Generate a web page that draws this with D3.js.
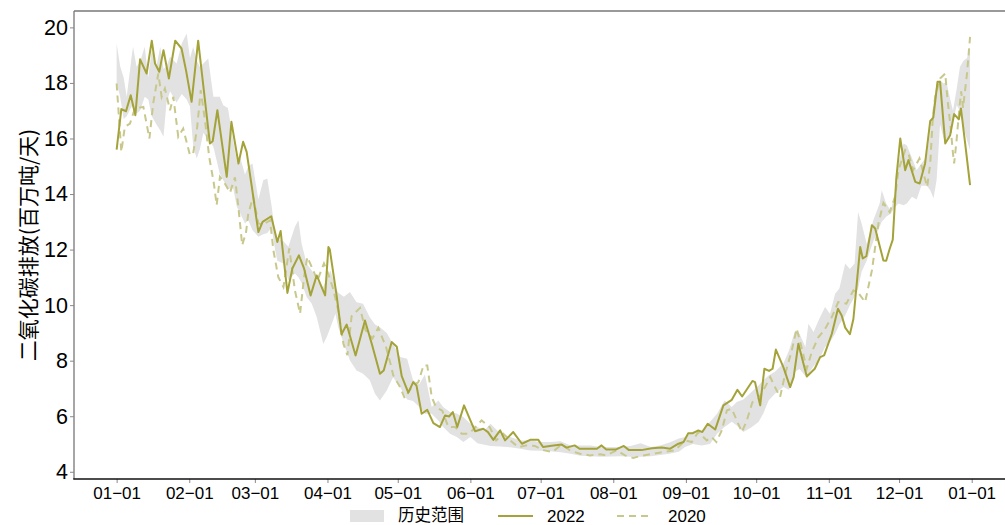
<!DOCTYPE html>
<html>
<head>
<meta charset="utf-8">
<script src="https://cdnjs.cloudflare.com/ajax/libs/d3/7.8.5/d3.min.js"></script>
<title>二氧化碳排放</title>
<style>
	body { margin: 0; background: #fff; }
	svg { display: block; font-family: "Liberation Sans", Arial, "Noto Sans CJK SC", sans-serif; }
	.tick line { stroke: #888; }
	.domain { display: none; }
</style>
</head>
<body>
<svg width="1005" height="525"></svg>
<script>
// day of year (0 = 01-01), value in Mt/day
var series2022 = [[0,15.6],[2,17.06],[4,16.98],[6,17.56],[8,16.84],[10,18.85],[12.8,18.34],[15,19.52],[16.4,18.7],[18.2,18.4],
	[20,19.18],[22.3,18.16],[25,19.52],[27.7,19.24],[29.6,18.46],[32,17.32],[34.8,19.52],[37.7,17.38],[39.8,15.82],[41,15.9],
	[43,17.02],[47,14.62],[49,16.6],[52,15.1],[54,15.88],[55.5,15.52],[57.6,14.32],[60.5,12.63],[62.3,13.0],[66,13.2],
	[68.6,12.27],[70,12.67],[72.9,10.44],[75,11.32],[77.8,11.79],[80,11.32],[82.8,10.35],[85.4,11.07],[89,10.35],[90.4,12.09],
	[91,12.0],[94,10.29],[96,8.95],[98.2,9.3],[102,8.19],[106,9.45],[108.9,8.61],[112.4,7.53],[114,7.65],[117.4,8.67],
	[119.6,8.5],[121.7,7.44],[124.5,6.85],[126.6,7.23],[128,7.1],[130.2,6.09],[132.6,6.23],[135.2,5.75],[138,5.61],[140.2,6.03],
	[141.9,5.99],[143.5,6.15],[145.4,5.61],[148.3,6.39],[151,5.85],[153,5.46],[156.5,5.55],[158.5,5.43],[160.8,5.15],[163.7,5.49],
	[165.8,5.13],[169.3,5.43],[173,5.01],[176.5,5.15],[180,5.15],[182,4.89],[186.5,4.95],[190,4.98],[192,4.87],[195.5,4.95],
	[197.6,4.83],[202,4.83],[205,4.83],[207,4.95],[209,4.8],[213,4.8],[216.5,4.93],[218.7,4.78],[224,4.78],[228.5,4.85],
	[232.7,4.87],[236.3,4.83],[239.8,5.01],[242,5.07],[244,5.39],[246,5.39],[248.3,5.49],[250,5.43],[252.3,5.73],[255.5,5.52],
	[259,6.39],[262.6,6.59],[265,6.95],[267,6.71],[271.4,7.27],[272.5,7.23],[274.7,6.39],[276.5,7.71],[278.5,7.63],[280,7.71],
	[281.4,8.4],[284.6,7.77],[287.5,7.05],[289,7.41],[291,8.61],[294.6,7.43],[298,7.71],[300.3,8.13],[302,8.19],[305.3,8.97],
	[307.9,9.87],[309.5,9.63],[311,9.19],[313,8.95],[314.5,9.5],[317.4,12.09],[318.5,11.68],[320,11.76],[322.4,12.88],[323.8,12.76],
	[327.3,11.61],[328.5,11.6],[330,12.03],[331.3,12.36],[332.8,14.56],[334.5,16.0],[336.6,14.86],[338,15.22],[340.9,14.44],[342.8,14.38],
	[345.1,15.1],[347.3,16.63],[348.6,16.75],[350.4,18.04],[351.5,18.04],[353.7,15.82],[355.8,16.12],[357.5,16.88],[359.5,16.69],[360.4,17.08],
	[362.2,15.82],[364.3,14.32]];

var series2020 = [[0,17.98],[2,15.52],[3.5,16.42],[5.7,16.54],[7.8,17.08],[11.4,17.14],[14,16.0],[15.6,17.26],[17.8,18.34],[19.2,17.5],
	[20.6,17.8],[22.8,17.02],[24.2,17.5],[26.3,16.06],[28.4,16.36],[31.3,15.4],[32.7,15.47],[34.4,16.42],[35.9,17.74],[37.7,16.66],
	[39.5,15.34],[41.5,14.38],[42.7,13.6],[44.1,14.62],[46.2,14.38],[48.4,14.05],[50.5,14.6],[52,13.5],[53.6,12.16],[55.2,12.6],
	[56.2,13.3],[58.3,13.9],[60.5,12.94],[62.6,12.9],[65.5,13.06],[66.9,11.98],[69,11.01],[71.2,10.65],[73.7,12.04],[76.1,10.53],
	[78.3,9.69],[80,11.01],[81.4,11.73],[83.3,11.37],[85.7,10.89],[88.5,11.5],[90,11.2],[92.2,10.65],[94.6,9.81],[96.8,8.61],
	[98.5,8.2],[100.3,9.6],[103.9,9.9],[106.2,9.1],[109.2,8.8],[111.7,9.18],[115,8.49],[116.7,7.95],[118.1,7.47],[121,7.05],
	[123,6.65],[126,7.05],[128.8,7.23],[131,7.83],[132.6,7.83],[134.5,6.69],[136.3,6.33],[139,6.2],[141.6,5.61],[144.5,5.61],
	[147.3,5.37],[150,5.37],[152,5.5],[155.8,5.85],[159.3,5.6],[162,5.13],[165,5.37],[168,5.13],[171.5,4.89],[175,4.95],
	[178.5,4.93],[182,4.78],[186,4.71],[189.5,4.95],[191.5,4.9],[193.6,4.76],[197.8,4.65],[202,4.59],[206.5,4.63],[209,4.59],
	[213.5,4.77],[217,4.59],[220.5,4.5],[224.8,4.59],[229,4.65],[233,4.71],[238.3,4.77],[242.7,5.13],[245.5,5.07],[248.3,5.43],
	[251.9,5.13],[254,5.25],[256,5.07],[258.3,5.49],[260.5,6.21],[262.6,6.27],[264.7,5.85],[266.9,5.43],[269,5.85],[271.4,6.51],
	[274,6.63],[276.8,7.05],[279,7.41],[281,7.05],[283.2,6.69],[285.4,7.53],[288.2,8.37],[290.3,9.15],[292,8.6],[294.6,7.71],
	[296.7,8.31],[299.6,8.85],[302,9.09],[305.3,9.57],[308,10.11],[311.5,10.05],[314.5,10.53],[317,10.4],[319.5,10.11],[322.4,11.25],
	[325.2,12.94],[327.3,13.68],[330,13.35],[332.3,13.9],[333.7,14.86],[336.6,15.58],[338,15.46],[340,14.86],[342.7,15.28],[345,14.56],
	[346,14.26],[347.3,15.1],[348.3,16.6],[349.4,17.5],[351.5,18.16],[353.7,18.34],[354.7,17.38],[356,16.4],[357,15.46],[357.5,15.1],
	[358.5,15.9],[359.8,17.14],[360.5,17.7],[361.3,17.1],[363,18.34],[364.3,19.66]];

// historical range: [day, min, max]
var histRange = [[0,18.0,19.42],[1.5,17.5,18.6],[3,16.7,18.2],[4.3,16.8,17.5],[6.4,17.15,18.94],[7,17.1,19.3],[8.5,16.9,18.58],[10,17.0,18.76],
	[12,17.5,19.3],[13.5,17.4,18.2],[15,16.8,19.2],[17,16.5,18.6],[18.6,16.3,19.3],[20,16.06,18.5],[21.3,17.3,18.6],[22.8,17.7,18.94],
	[25.6,17.3,18.7],[27.8,17.6,19.42],[29.9,17.4,19.78],[31.3,17.15,18.9],[32.7,15.7,19.3],[34.2,15.28,18.8],[35.5,15.6,18.58],[37,16.2,18.7],
	[39.1,16.0,18.88],[41.3,15.7,17.5],[44,14.74,17.5],[45.5,14.5,17.2],[47.5,14.2,17.1],[49.8,14.2,15.9],[51.3,13.54,15.2],[52.8,13.3,15.3],
	[54.8,12.94,14.7],[56.2,13.06,15.0],[58,12.7,15.1],[60.5,12.46,13.8],[62.6,12.55,14.5],[64.3,12.6,14.56],[66.2,12.8,13.54],[67.6,12.0,12.6],
	[68.6,11.6,12.4],[71.2,11.5,12.3],[73.3,10.9,12.1],[76.1,11.14,12.82],[77.6,11.0,13.06],[79,10.8,12.2],[81.1,10.29,11.5],[83.3,10.05,11.25],
	[85.4,9.57,10.9],[86.8,9.09,10.75],[88.2,8.6,10.65],[89.7,8.85,11.0],[91.3,9.2,11.25],[93.4,9.69,10.65],[94.6,9.2,10.45],[97,8.6,10.3],
	[99.6,8.01,10.47],[102.4,7.65,10.1],[105.2,7.53,10.05],[108,7.3,9.57],[110.3,6.81,9.3],[112.4,6.57,9.2],[115.3,6.93,9.0],[118,7.4,8.6],
	[121,7.05,8.13],[124,6.6,8.07],[126.5,6.55,7.3],[129.2,6.33,7.15],[131.6,6.09,7.5],[134.5,6.09,6.33],[137.3,5.85,6.57],[139.4,5.61,6.33],
	[142.3,5.37,6.15],[145.2,5.25,6.1],[148,5.07,5.97],[151,5.25,5.73],[154,5.03,5.61],[157,4.97,5.49],[159.6,4.93,5.73],[163.9,4.91,5.37],
	[168,4.88,5.25],[172.3,4.83,5.13],[176.5,4.77,5.13],[180.8,4.76,5.07],[185,4.74,5.07],[189.5,4.7,5.1],[193.8,4.65,4.95],[198,4.58,4.95],
	[202.3,4.56,4.95],[206.5,4.54,4.89],[210.8,4.55,4.89],[215,4.56,4.89],[219.3,4.54,4.93],[223.7,4.54,5.03],[228,4.56,4.89],[232,4.6,4.95],
	[236,4.65,5.05],[240,4.72,5.2],[242.6,4.89,5.25],[246,5.0,5.45],[249.8,4.95,5.49],[253.3,5.0,5.8],[256.3,5.37,6.09],[259.5,5.61,6.57],
	[262.6,5.8,6.33],[264.7,5.67,6.51],[267.5,5.43,6.6],[271,5.6,6.87],[274,5.79,7.11],[276,6.09,7.29],[278.3,6.57,7.47],[281,6.81,7.6],
	[284.6,7.05,7.9],[287,6.95,8.37],[289.6,7.6,9.09],[291.5,7.7,8.97],[294,7.45,8.49],[295.3,7.53,9.33],[297.5,7.8,9.03],[299.6,8.0,9.45],
	[302.4,8.49,9.93],[304.5,8.67,9.69],[306.7,8.97,10.41],[308.5,9.3,10.6],[311,9.63,11.5],[313,10.0,11.3],[315,10.3,11.5],[316.5,10.6,13.35],
	[318,11.2,12.94],[320.2,11.61,12.2],[323,12.3,13.06],[325.7,12.82,13.66],[326.6,13.0,14.14],[328.5,13.18,13.66],[330.5,13.3,13.4],[332,13.5,14.0],
	[333.7,13.66,15.1],[335.9,13.6,15.82],[337.3,13.66,15.76],[339.5,13.9,15.3],[341.5,13.8,14.86],[343.5,14.3,15.1],[345.8,14.3,15.34],[347.3,14.14,16.3],
	[348.7,13.85,17.26],[350,14.5,17.98],[351.5,16.5,18.1],[353,16.0,17.98],[354.2,15.9,18.04],[355.6,16.0,17.5],[357,16.6,17.0],[358.6,17.2,17.8],
	[360,17.0,18.58],[361.5,16.4,18.8],[363,15.94,18.9],[364.3,15.58,19.3]];

var monthDays = [0, 31, 59, 90, 120, 151, 181, 212, 243, 273, 304, 334, 365];
var monthLabels = ['01−01','02−01','03−01','04−01','05−01','06−01','07−01','08−01','09−01','10−01','11−01','12−01','01−01'];
var yTicks = [4, 6, 8, 10, 12, 14, 16, 18, 20];
var legendLabels = ['历史范围', '2022', '2020'];

var color2022 = '#a4a33a';
var color2020 = '#c8c88c';
var colorBand = '#e2e2e2';

var svg = d3.select('svg');
var plotLeft = 74, plotRight = 1012, plotTop = 11, plotBottom = 479;

var x = d3.scaleLinear().domain([-18.2, 382.2]).range([plotLeft, plotRight]);
var y = d3.scaleLinear().domain([3.74, 20.59]).range([plotBottom, plotTop]);

var area = d3.area()
	.x(function(d) { return x(d[0]); })
	.y0(function(d) { return y(d[1]); })
	.y1(function(d) { return y(d[2]); });

var line = d3.line()
	.x(function(d) { return x(d[0]); })
	.y(function(d) { return y(d[1]); });

svg.append('path')
	.datum(histRange)
	.attr('d', area)
	.attr('fill', colorBand);

svg.append('path')
	.datum(series2020)
	.attr('d', line)
	.attr('fill', 'none')
	.attr('stroke', color2020)
	.attr('stroke-width', 2)
	.attr('stroke-dasharray', '7,5');

svg.append('path')
	.datum(series2022)
	.attr('d', line)
	.attr('fill', 'none')
	.attr('stroke', color2022)
	.attr('stroke-width', 2)
	.attr('stroke-linejoin', 'round');

// axes
var yAxis = svg.append('g')
	.attr('transform', 'translate(' + plotLeft + ',0)')
	.call(d3.axisLeft(y).tickValues(yTicks).tickSize(4).tickPadding(2));
yAxis.selectAll('text').attr('font-size', 21.5).attr('fill', '#000').attr('font-family', '"Liberation Sans", Arial, sans-serif');

var xAxis = svg.append('g')
	.attr('transform', 'translate(0,' + plotBottom + ')')
	.call(d3.axisBottom(x).tickValues(monthDays).tickSize(4).tickPadding(4)
		.tickFormat(function(d, i) { return monthLabels[i]; }));
xAxis.selectAll('text').attr('font-size', 17).attr('fill', '#000').attr('font-family', '"Liberation Sans", Arial, sans-serif');

// spines
svg.append('line').attr('x1', plotLeft).attr('x2', plotLeft).attr('y1', plotTop).attr('y2', plotBottom)
	.attr('stroke', '#888').attr('stroke-width', 1.5);
svg.append('line').attr('x1', plotLeft).attr('x2', 1005).attr('y1', plotTop).attr('y2', plotTop)
	.attr('stroke', '#777').attr('stroke-width', 1.5);
svg.append('line').attr('x1', plotLeft - 0.75).attr('x2', 1005).attr('y1', plotBottom).attr('y2', plotBottom)
	.attr('stroke', '#111').attr('stroke-width', 1.5);

svg.append('text')
	.attr('transform', 'translate(36,245) rotate(-90)')
	.attr('text-anchor', 'middle')
	.attr('font-size', 21)
	.attr('font-family', '"Noto Sans CJK SC", sans-serif')
	.text('二氧化碳排放(百万吨/天)');

// legend
var legend = svg.append('g').attr('font-size', 17);
legend.append('rect').attr('x', 350).attr('y', 510).attr('width', 34).attr('height', 12).attr('fill', colorBand);
legend.append('text').attr('x', 398).attr('y', 515).attr('dy', '0.36em')
	.attr('font-family', '"Noto Sans CJK SC", sans-serif').attr('font-size', 16.5).text(legendLabels[0]);
legend.append('line').attr('x1', 498).attr('x2', 533).attr('y1', 516).attr('y2', 516)
	.attr('stroke', color2022).attr('stroke-width', 2);
legend.append('text').attr('x', 547).attr('y', 516).attr('dy', '0.36em').text(legendLabels[1]);
legend.append('line').attr('x1', 617).attr('x2', 653).attr('y1', 516).attr('y2', 516)
	.attr('stroke', color2020).attr('stroke-width', 2).attr('stroke-dasharray', '7,5');
legend.append('text').attr('x', 668).attr('y', 516).attr('dy', '0.36em').text(legendLabels[2]);
</script>
</body>
</html>
